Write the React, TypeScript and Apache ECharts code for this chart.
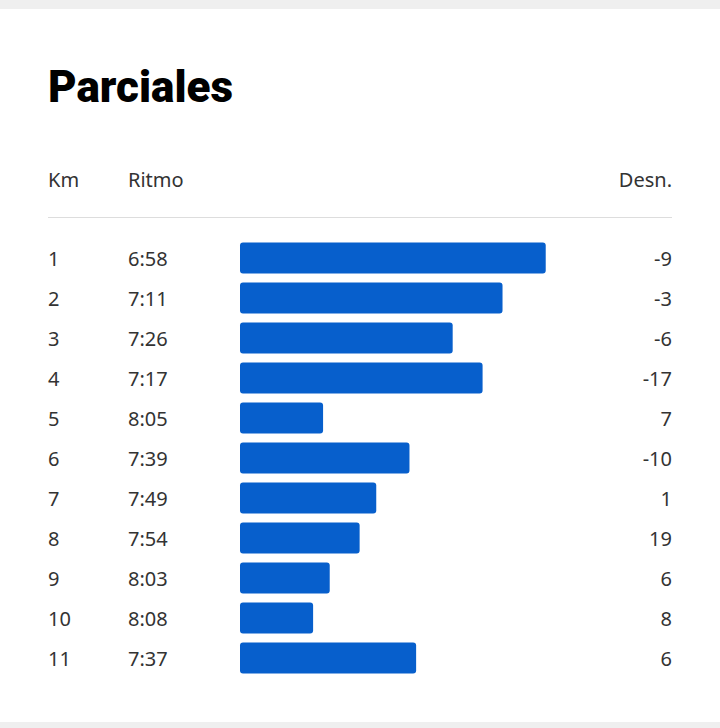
import React, { useEffect, useRef } from "react";
import * as echarts from "echarts";

const TITLE = "Parciales";
const HEADERS = ["Km", "Ritmo", "Desn."];
const KM = ["1", "2", "3", "4", "5", "6", "7", "8", "9", "10", "11"];
const RITMO = ["6:58", "7:11", "7:26", "7:17", "8:05", "7:39", "7:49", "7:54", "8:03", "8:08", "7:37"];
const DESN = ["-9", "-3", "-6", "-17", "7", "-10", "1", "19", "6", "8", "6"];

// bar length = seconds faster than the 8:30 reference pace
const REF_PACE = "8:30";
const toSec = (p: string) => {
  const [m, s] = p.split(":").map(Number);
  return m * 60 + s;
};
const BAR_VALUES = RITMO.map((p) => toSec(REF_PACE) - toSec(p));

const FONT = "'Noto Sans', sans-serif";
const TEXT = "#333333";
const BLUE = "#075fcc";

export default function App() {
  const ref = useRef<HTMLDivElement>(null);
  useEffect(() => {
    if (!ref.current) return;
    const chart = echarts.init(ref.current, undefined, { renderer: "svg" });
    chart.setOption({
      animation: false,
      backgroundColor: "#ffffff",
      textStyle: { fontFamily: FONT },
      graphic: [
        { type: "rect", shape: { x: 0, y: 0, width: 720, height: 9 }, style: { fill: "#efefef" } },
        { type: "rect", shape: { x: 0, y: 722, width: 720, height: 6 }, style: { fill: "#efefef" } },
        {
          type: "text",
          x: 48,
          y: 87,
          style: {
            text: TITLE,
            font: "900 44px Roboto, sans-serif",
            fill: "#000000",
            verticalAlign: "middle",
            align: "left",
          },
        },
        { type: "text", x: 48, y: 179, style: { text: HEADERS[0], font: `20px ${FONT}`, fill: TEXT, verticalAlign: "middle", align: "left" } },
        { type: "text", x: 128, y: 179, style: { text: HEADERS[1], font: `20px ${FONT}`, fill: TEXT, verticalAlign: "middle", align: "left" } },
        { type: "text", x: 672, y: 179, style: { text: HEADERS[2], font: `20px ${FONT}`, fill: TEXT, verticalAlign: "middle", align: "right" } },
        { type: "line", shape: { x1: 48, y1: 217.5, x2: 672, y2: 217.5 }, style: { stroke: "#dddddd", lineWidth: 1 } },
      ],
      grid: { left: 240, right: 48, top: 238, height: 440, containLabel: false },
      xAxis: { type: "value", min: 0, max: 130, show: false },
      yAxis: [
        {
          type: "category",
          data: KM,
          inverse: true,
          position: "left",
          axisLine: { show: false },
          axisTick: { show: false },
          splitLine: { show: false },
          axisLabel: {
            margin: 192,
            align: "left",
            formatter: (v: string, i: number) => `{km|${v}}{pace|${RITMO[i]}}`,
            rich: {
              km: { width: 80, fontSize: 20, color: TEXT, fontFamily: FONT, align: "left" },
              pace: { fontSize: 20, color: TEXT, fontFamily: FONT, align: "left" },
            },
          },
        },
        {
          type: "category",
          data: KM,
          inverse: true,
          position: "right",
          axisLine: { show: false },
          axisTick: { show: false },
          splitLine: { show: false },
          axisLabel: {
            margin: 0,
            align: "right",
            fontSize: 20,
            color: TEXT,
            fontFamily: FONT,
            formatter: (_v: string, i: number) => DESN[i],
          },
        },
      ],
      series: [
        {
          type: "bar",
          yAxisIndex: 0,
          data: BAR_VALUES,
          barWidth: 31,
          itemStyle: { color: BLUE, borderRadius: 3 },
        },
      ],
    });
    return () => chart.dispose();
  }, []);
  return <div ref={ref} style={{ position: "absolute", left: 0, top: 0, width: 720, height: 728 }} />;
}
